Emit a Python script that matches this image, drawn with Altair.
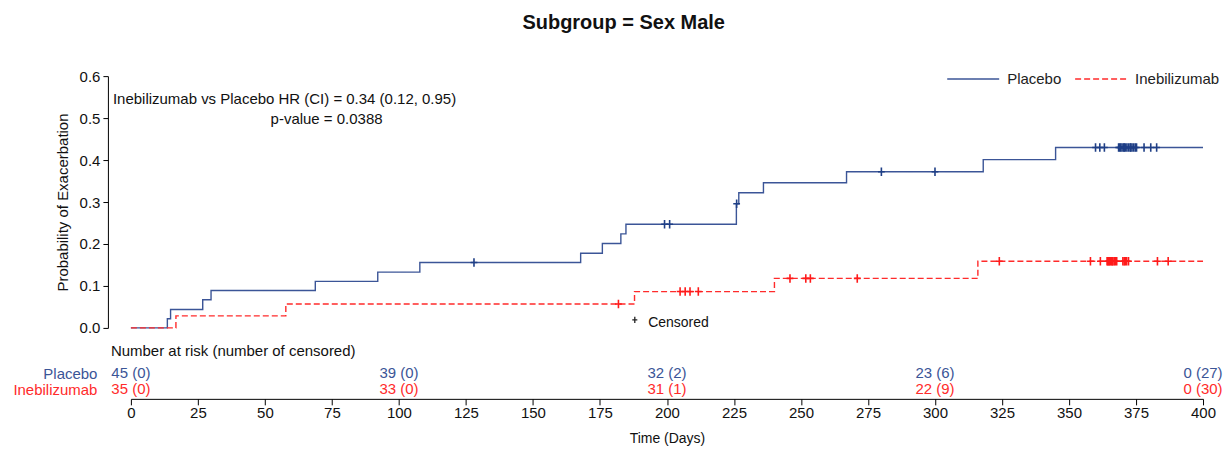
import altair as alt
import pandas as pd

# ---------------- data ----------------
chart_title = "Subgroup = Sex Male"
series_names = ["Placebo", "Inebilizumab"]
line_colors = ["#3b5597", "#ff2b2b"]
censor_colors = ["#1f3f86", "#ff1a1a"]

placebo_time = [0, 13.6, 14.8, 26.8, 29.9, 68.8, 92.1, 107.8, 167.8, 175.9, 182.8, 184.7,
                225.9, 226.8, 236.0, 267.0, 318.0, 345.0, 400]
placebo_prob = [0, 0.022, 0.044, 0.067, 0.089, 0.111, 0.133, 0.156, 0.178, 0.201, 0.224, 0.247,
                0.296, 0.322, 0.346, 0.372, 0.401, 0.430, 0.430]
placebo_censor = [128.0, 199.1, 201.0, 226.0, 280.0, 300.0,
                  359.9, 361.5, 363.2, 368.5, 368.9, 369.3, 369.8, 370.4, 370.6, 371.0,
                  371.6, 372.2, 372.8, 373.0, 373.5, 374.1, 374.7, 375.2, 378.0, 380.5, 382.7]

ineb_time = [0, 16.8, 57.8, 187.9, 240.1, 316.0, 400]
ineb_prob = [0, 0.0286, 0.0571, 0.0866, 0.118, 0.159, 0.159]
ineb_censor = [181.9, 204.9, 206.8, 208.6, 211.7, 245.9, 251.8, 253.5, 271.0, 324.0,
               358.0, 361.7, 364.2, 364.5, 364.8, 365.1, 365.4, 365.9, 366.1, 366.4,
               366.9, 367.3, 367.8, 370.1, 370.6, 371.0, 371.5, 372.2, 383.0, 387.0]

risk_days = [0, 100, 200, 300, 400]
placebo_risk = ["45 (0)", "39 (0)", "32 (2)", "23 (6)", "0 (27)"]
ineb_risk = ["35 (0)", "33 (0)", "31 (1)", "22 (9)", "0 (30)"]

hr_text = "Inebilizumab vs Placebo HR (CI) = 0.34 (0.12, 0.95)"
p_text = "p-value = 0.0388"
censored_label = "Censored"
risk_heading = "Number at risk (number of censored)"
x_title = "Time (Days)"
y_title = "Probability of Exacerbation"
x_ticks = list(range(0, 401, 25))
y_ticks = [0.0, 0.1, 0.2, 0.3, 0.4, 0.5, 0.6]


def step_value(times, probs, t):
    v = probs[0]
    for ti, pi in zip(times, probs):
        if ti <= t:
            v = pi
    return v


curve_rows = []
for name, ts, ps in [(series_names[0], placebo_time, placebo_prob),
                     (series_names[1], ineb_time, ineb_prob)]:
    for t, p in zip(ts, ps):
        curve_rows.append({"day": t, "prob": p, "series": name})
curve_df = pd.DataFrame(curve_rows)

cens_rows = []
for name, ts, ps, cs in [(series_names[0], placebo_time, placebo_prob, placebo_censor),
                         (series_names[1], ineb_time, ineb_prob, ineb_censor)]:
    for c in cs:
        cens_rows.append({"day": c, "prob": step_value(ts, ps, c), "series": name})
cens_df = pd.DataFrame(cens_rows)

risk_rows = []
for name, labels in [(series_names[0], placebo_risk), (series_names[1], ineb_risk)]:
    for d, lab in zip(risk_days, labels):
        risk_rows.append({"day": d, "series": name, "label": lab})
risk_df = pd.DataFrame(risk_rows)

# ---------------- chart ----------------
FONT = "Liberation Sans"
PLUS = "M-0.8,0H0.8M0,-1V1"
PLOT_W = 1073

x_scale = alt.Scale(domain=[0, 400], nice=False, zero=False)
y_scale = alt.Scale(domain=[0, 0.6], nice=False)
color_scale = alt.Scale(domain=series_names, range=line_colors)
dash_scale = alt.Scale(domain=series_names, range=[[1, 0], [6, 3]])

legend = alt.Legend(title=None, orient="none", direction="horizontal",
                    legendX=816, legendY=-24, padding=0, symbolType="stroke",
                    symbolSize=2704, symbolStrokeWidth=1.5, labelFontSize=15,
                    labelOffset=7, columnPadding=10, labelColor="#222222", labelFont=FONT)

lines = alt.Chart(curve_df).mark_line(interpolate="step-after", strokeWidth=1.4).encode(
    x=alt.X("day:Q", scale=x_scale, axis=None),
    y=alt.Y("prob:Q", scale=y_scale,
            axis=alt.Axis(values=y_ticks, format=".1f", offset=23, tickSize=5,
                          labelPadding=3, title=y_title, titleFontSize=15,
                          titleFontWeight="normal", titlePadding=9, labelFontSize=15,
                          grid=False, domainColor="#000000", tickColor="#000000",
                          labelColor="#111111", titleColor="#111111")),
    color=alt.Color("series:N", scale=color_scale, sort=series_names, legend=legend),
    strokeDash=alt.StrokeDash("series:N", scale=dash_scale, sort=series_names, legend=legend),
)

censors = alt.Chart(cens_df).mark_point(shape=PLUS, size=72, strokeWidth=1.6,
                                         filled=False, opacity=1).encode(
    x=alt.X("day:Q", scale=x_scale),
    y=alt.Y("prob:Q", scale=y_scale),
    stroke=alt.Stroke("series:N", scale=alt.Scale(domain=series_names, range=censor_colors),
                      legend=None),
)

hr_mark = alt.Chart(pd.DataFrame({"t": [hr_text]})).mark_text(
    align="left", baseline="middle", fontSize=15, color="#111111").encode(
    x=alt.datum(-6.7), y=alt.datum(0.545), text="t:N")
p_mark = alt.Chart(pd.DataFrame({"t": [p_text]})).mark_text(
    align="center", baseline="middle", fontSize=15, color="#111111").encode(
    x=alt.datum(73), y=alt.datum(0.497), text="t:N")
cens_key = alt.Chart(pd.DataFrame({"t": [censored_label]})).mark_point(
    shape=PLUS, size=40, strokeWidth=1.3, filled=False, color="#222222", opacity=1).encode(
    x=alt.datum(188), y=alt.datum(0.019))
cens_text = alt.Chart(pd.DataFrame({"t": [censored_label]})).mark_text(
    align="left", baseline="middle", fontSize=14, color="#111111").encode(
    x=alt.datum(193), y=alt.datum(0.012), text="t:N")

top = alt.layer(lines, censors, hr_mark, p_mark, cens_key, cens_text).properties(
    width=PLOT_W, height=252)

risk = alt.Chart(risk_df, title=alt.TitleParams(
    risk_heading, anchor="start", frame="group", dx=-20, fontSize=15,
    fontWeight="normal", offset=0, color="#111111")).mark_text(fontSize=15, dy=2.5).encode(
    x=alt.X("day:Q", scale=x_scale,
            axis=alt.Axis(values=x_ticks, format="d", title=x_title, tickSize=6,
                          labelPadding=1, labelFontSize=15, titleFontSize=14,
                          titleFontWeight="normal", titlePadding=11, grid=False,
                          domainColor="#000000", tickColor="#000000",
                          labelColor="#111111", titleColor="#111111", labelFlush=False)),
    y=alt.Y("series:N", sort=series_names,
            scale=alt.Scale(domain=series_names, padding=0.75),
            axis=alt.Axis(title=None, ticks=False, tickSize=0, domain=False,
                          labelPadding=34, labelFontSize=15, labelOffset=2.5, grid=False,
                          labelColor={"condition": {"test": "datum.value == 'Placebo'",
                                                    "value": line_colors[0]},
                                      "value": line_colors[1]})),
    text="label:N",
    color=alt.Color("series:N", scale=color_scale, legend=None),
).properties(width=PLOT_W, height=40)

chart = alt.vconcat(top, risk, spacing=8).resolve_scale(
    color="independent", strokeDash="independent"
).properties(
    title=alt.TitleParams(chart_title, fontSize=20, fontWeight="bold", anchor="middle",
                          offset=19, dx=6, color="#111111"),
    padding={"left": 4, "top": 5, "right": 0, "bottom": 0},
).configure(font=FONT).configure_view(stroke=None)

chart.save("out.html", embed_options={"renderer": "svg", "actions": False})
